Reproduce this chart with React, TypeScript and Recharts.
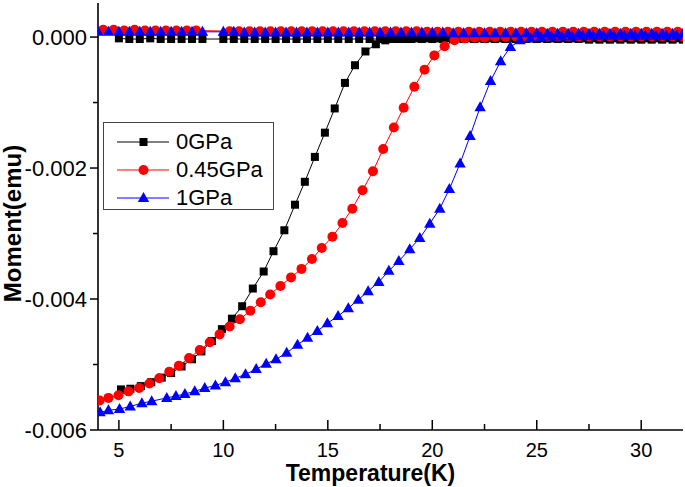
import { Label, Legend, Line, LineChart, XAxis, YAxis } from "recharts";

const FONT = "'Liberation Sans', Arial, sans-serif";

const seriesNames = ["0GPa", "0.45GPa", "1GPa"];
const seriesColors = ["#000000", "#ff0000", "#0000ff"];

const xTicks = [5, 7.5, 10, 12.5, 15, 17.5, 20, 22.5, 25, 27.5, 30];
const yTicks = [0, -0.001, -0.002, -0.003, -0.004, -0.005, -0.006];

// zero-field-cooled branches: [T (K), moment (emu)]
const zfc0GPa: [number, number][] = [
  [5.1, -0.00538], [5.55, -0.00537], [6.05, -0.00533], [6.55, -0.00527], [7.05, -0.0052],
  [7.5, -0.00513], [8.0, -0.00503], [8.5, -0.00492], [8.95, -0.0048], [9.45, -0.00464],
  [9.93, -0.00446], [10.41, -0.0043], [10.9, -0.00411], [11.41, -0.00384], [11.93, -0.00358],
  [12.4, -0.00327], [12.92, -0.00295], [13.43, -0.00256], [13.9, -0.00221], [14.38, -0.00183],
  [14.86, -0.00146], [15.33, -0.00109], [15.82, -0.0007], [16.3, -0.00043], [16.8, -0.00022],
  [17.3, -0.00011], [17.75, -0.00005], [18.25, -0.00003], [18.75, -0.00003], [19.25, -0.00002],
  [19.75, -0.00002], [20.25, -0.00002], [20.75, -0.00002], [21.25, -0.00002], [21.75, -0.00002],
  [22.25, -0.00002], [22.75, -0.00002], [23.25, -0.00002], [23.75, -0.00002], [24.25, -0.00002],
  [24.75, -0.00002], [25.25, -0.00002], [25.75, -0.00002], [26.25, -0.00002], [26.75, -0.00002],
  [27.25, -0.00002], [27.75, -0.00002], [28.25, -0.00002], [28.75, -0.00002], [29.25, -0.00002],
  [29.75, -0.00002], [30.25, -0.00002], [30.75, -0.00002], [31.25, -0.00002], [31.75, -0.00002]
];

const zfc045GPa: [number, number][] = [
  [4.08, -0.00555], [4.5, -0.00551], [4.98, -0.00547], [5.46, -0.00541], [5.97, -0.00536],
  [6.46, -0.00529], [6.93, -0.00521], [7.41, -0.00511], [7.87, -0.00502], [8.36, -0.0049],
  [8.87, -0.00478], [9.35, -0.00466], [9.82, -0.00454], [10.3, -0.00442], [10.79, -0.00431],
  [11.29, -0.00418], [11.79, -0.00405], [12.24, -0.00393], [12.73, -0.0038], [13.24, -0.00367],
  [13.74, -0.00354], [14.24, -0.00339], [14.71, -0.00322], [15.22, -0.00305], [15.7, -0.00284],
  [16.17, -0.00262], [16.66, -0.00234], [17.16, -0.00205], [17.65, -0.00171], [18.16, -0.00138],
  [18.63, -0.00108], [19.14, -0.00076], [19.63, -0.0005], [20.1, -0.00028], [20.59, -0.00014],
  [21.06, -0.00005], [21.55, -0.00002], [22.03, -0.00001], [22.5, -0.00001], [23.0, 0],
  [23.5, 0], [24.0, 0.00001], [24.5, 0], [25.0, 0.00001], [25.5, 0.00001], [26.0, 0.00001],
  [26.5, 0.00001], [27.0, 0.00001], [27.5, 0.00001], [28.0, 0.00001], [28.5, 0.00001],
  [29.0, 0.00001], [29.5, 0.00001], [30.0, 0.00001], [30.5, 0.00001], [31.0, 0.00001],
  [31.5, 0.00001], [32.0, 0.00001]
];

const zfc1GPa: [number, number][] = [
  [4.1, -0.00573], [4.5, -0.0057], [5.03, -0.00568], [5.54, -0.00564], [6.1, -0.00559],
  [6.57, -0.00556], [7.29, -0.00551], [7.73, -0.00548], [8.16, -0.00545], [8.63, -0.00541],
  [9.11, -0.00536], [9.62, -0.00532], [10.1, -0.00527], [10.57, -0.00521], [11.06, -0.00515],
  [11.57, -0.00507], [12.05, -0.00499], [12.52, -0.00492], [13.03, -0.00482], [13.55, -0.0047],
  [14.03, -0.00459], [14.5, -0.00449], [14.98, -0.00437], [15.49, -0.00426], [15.98, -0.00414],
  [16.46, -0.00401], [16.93, -0.00388], [17.44, -0.00374], [17.92, -0.00357], [18.4, -0.00342],
  [18.92, -0.00324], [19.4, -0.00307], [19.88, -0.00285], [20.36, -0.00262], [20.82, -0.00232],
  [21.33, -0.00193], [21.81, -0.00151], [22.29, -0.00107], [22.79, -0.00067], [23.27, -0.00037],
  [23.74, -0.00015], [24.2, -0.00005], [24.7, -0.00002], [25.2, 0], [25.7, 0.00001],
  [26.2, 0.00001], [26.7, 0.00001], [27.2, 0.00002], [27.7, 0.00002], [28.2, 0.00002],
  [28.7, 0.00002], [29.2, 0.00002], [29.7, 0.00002], [30.2, 0.00002], [30.7, 0.00002],
  [31.2, 0.00002], [31.7, 0.00002]
];

// field-cooled branches (the 0.45GPa run sits between the points of the other two)
const fcTemps = [
  4, 4.5, 5, 5.5, 6, 6.5, 7, 7.5, 8, 8.5, 9,
  10, 10.5, 11, 11.5, 12, 12.5, 13, 13.5, 14, 14.5, 15, 15.5, 16, 16.5, 17, 17.5,
  18, 18.5, 19, 19.5, 20, 20.5, 21, 21.5, 22, 22.5, 23, 23.5, 24, 24.5, 25, 25.5,
  26, 26.5, 27, 27.5, 28, 28.5, 29, 29.5, 30, 30.5, 31, 31.5, 32
];

const fcTemps045 = [
  4.25, 4.75, 5.25, 5.75, 6.25, 6.75, 7.25, 7.75, 8.25, 8.7,
  10.3, 10.75, 11.25, 11.75, 12.25, 12.75, 13.25, 13.75, 14.25, 14.75, 15.25, 15.75, 16.25, 16.75,
  17.25, 17.75, 18.25, 18.75, 19.25, 19.75, 20.25, 20.75, 21.25, 21.75, 22.25, 22.75, 23.25, 23.75,
  24.25, 24.75, 25.25, 25.75, 26.25, 26.75, 27.25, 27.75, 28.25, 28.75, 29.25, 29.75, 30.25, 30.75,
  31.25, 31.75
];

// 0GPa field-cooled starts at 5 K (no value at 4 and 4.5 K)
const fc0GPa = [
  null, null, -0.00002, -0.00003, -0.00003, -0.00002, -0.00003, -0.00003, -0.00003, -0.00003, -0.00003,
  -0.00003, -0.00003, -0.00003, -0.00003, -0.00003, -0.00003, -0.00003, -0.00003, -0.00003, -0.00003,
  -0.00003, -0.00003, -0.00003, -0.00003, -0.00003, -0.00003, -0.00003, -0.00003, -0.00003, -0.00003,
  -0.00003, -0.00003, -0.00003, -0.00003, -0.00003, -0.00003, -0.00003, -0.00003, -0.00003, -0.00003,
  -0.00003, -0.00003, -0.00003, -0.00003, -0.00003, -0.00004, -0.00004, -0.00004, -0.00004, -0.00004,
  -0.00004, -0.00004, -0.00004, -0.00004, -0.00004
];

const fc045GPa = [
  0.00011, 0.00011, 0.0001, 0.00011, 0.0001, 0.0001, 0.0001, 0.0001, 0.0001, 0.0001,
  0.00009, 0.00009, 0.00009, 0.00009, 0.00009, 0.00009, 0.00009, 0.00009, 0.00009, 0.00009,
  0.00009, 0.00009, 0.00009, 0.00009, 0.00009, 0.00009, 0.00009, 0.00009, 0.00009, 0.00008,
  0.00008, 0.00008, 0.00008, 0.00008, 0.00008, 0.00008, 0.00008, 0.00008, 0.00008, 0.00008,
  0.00008, 0.00008, 0.00008, 0.00008, 0.00008, 0.00008, 0.00008, 0.00008, 0.00008, 0.00008,
  0.00008, 0.00008, 0.00008, 0.00008
];

const fc1GPa = [
  0.00008, 0.00008, 0.00008, 0.00008, 0.00008, 0.00008, 0.00008, 0.00008, 0.00008, 0.00008, 0.00008,
  0.00008, 0.00008, 0.00007, 0.00007, 0.00007, 0.00007, 0.00007, 0.00007, 0.00007, 0.00007,
  0.00007, 0.00007, 0.00007, 0.00007, 0.00007, 0.00007, 0.00007, 0.00007, 0.00007, 0.00007,
  0.00007, 0.00007, 0.00006, 0.00006, 0.00006, 0.00006, 0.00006, 0.00006, 0.00006, 0.00006,
  0.00006, 0.00005, 0.00005, 0.00005, 0.00005, 0.00005, 0.00005, 0.00005, 0.00005, 0.00005,
  0.00005, 0.00005, 0.00005, 0.00005, 0.00005
];

const pairRows = (pts: [number, number][]) => pts.map(([t, m]) => ({ t, m }));
const fcRows = (temps: number[], vals: (number | null)[]) =>
  temps.map((t, i) => ({ t, m: vals[i] })).filter((r) => r.m !== null && r.m !== undefined);

const zfcData = [pairRows(zfc0GPa), pairRows(zfc045GPa), pairRows(zfc1GPa)];
const fcData = [fcRows(fcTemps, fc0GPa), fcRows(fcTemps045, fc045GPa), fcRows(fcTemps, fc1GPa)];

function Marker({ cx, cy, idx }: { cx: number; cy: number; idx: number }) {
  const color = seriesColors[idx];
  if (idx === 0) return <rect x={cx - 4} y={cy - 4} width={8} height={8} fill={color} />;
  if (idx === 1) return <circle cx={cx} cy={cy} r={5} fill={color} />;
  return (
    <polygon
      points={`${cx},${cy - 6} ${cx - 5.7},${cy + 4} ${cx + 5.7},${cy + 4}`}
      fill={color}
    />
  );
}

const dotFor = (idx: number) => (props: any) => {
  const { cx, cy, index } = props;
  if (cx == null || cy == null) return <g key={index} />;
  return (
    <g key={index}>
      <Marker cx={cx} cy={cy} idx={idx} />
    </g>
  );
};

const isMajorX = (v: number) => v % 5 === 0;
const isMajorY = (v: number) => Math.round(v * 1000) % 2 === 0;

function BottomTick(props: any) {
  const { x, y, payload } = props;
  const major = isMajorX(payload.value);
  return (
    <g>
      <line x1={x} x2={x} y1={y} y2={y - (major ? 10 : 6)} stroke="#000" strokeWidth={1.5} />
      {major && (
        <text x={x} y={y + 27} textAnchor="middle" fontSize={20} fontFamily={FONT} fill="#000">
          {payload.value}
        </text>
      )}
    </g>
  );
}

function TopTick(props: any) {
  const { x, y, payload } = props;
  const major = isMajorX(payload.value);
  return <line x1={x} x2={x} y1={y} y2={y + (major ? 10 : 6)} stroke="#000" strokeWidth={1.5} />;
}

function LeftTick(props: any) {
  const { x, y, payload } = props;
  const major = isMajorY(payload.value);
  return (
    <g>
      <line x1={x} x2={x - (major ? 8 : 5)} y1={y} y2={y} stroke="#000" strokeWidth={1.5} />
      {major && (
        <text x={x - 11} y={y} dy="0.36em" textAnchor="end" fontSize={22} fontFamily={FONT} fill="#000">
          {payload.value.toFixed(3)}
        </text>
      )}
    </g>
  );
}

function RightTick(props: any) {
  const { x, y, payload } = props;
  const major = isMajorY(payload.value);
  return <line x1={x} x2={x - (major ? 8 : 5)} y1={y} y2={y} stroke="#000" strokeWidth={1.5} />;
}

function LegendBox() {
  return (
    <div
      style={{
        width: 171,
        height: 88,
        boxSizing: "border-box",
        border: "1px solid #444",
        background: "#fff",
        paddingTop: 5,
        fontFamily: FONT,
        fontSize: 22
      }}
    >
      {seriesNames.map((name, i) => (
        <div key={name} style={{ display: "flex", alignItems: "center", height: 28 }}>
          <svg width={72} height={20} style={{ display: "block" }}>
            <line x1={13} x2={65} y1={10} y2={10} stroke={seriesColors[i]} strokeWidth={1} />
            <Marker cx={39.5} cy={10} idx={i} />
          </svg>
          <span style={{ color: "#000", lineHeight: "28px" }}>{name}</span>
        </div>
      ))}
    </div>
  );
}

export default function App() {
  return (
    <div style={{ position: "absolute", left: 0, top: 0, background: "#fff" }}>
      <LineChart width={685} height={487} margin={{ top: 3, right: 2, bottom: 0, left: 0 }}>
        <XAxis
          dataKey="t"
          type="number"
          domain={[4, 32]}
          allowDataOverflow
          ticks={xTicks}
          interval={0}
          height={57}
          tickSize={0}
          tickMargin={0}
          tick={BottomTick}
          axisLine={{ stroke: "#000", strokeWidth: 1.6 }}
        >
          <Label
            content={(p: any) => {
              const vb = p.viewBox;
              return (
                <text
                  x={vb.x + vb.width / 2 - 20}
                  y={vb.y + vb.height - 6}
                  textAnchor="middle"
                  fontSize={23}
                  fontWeight="bold"
                  fontFamily={FONT}
                  fill="#000"
                >
                  Temperature(K)
                </text>
              );
            }}
          />
        </XAxis>
        <XAxis
          xAxisId="top"
          orientation="top"
          dataKey="t"
          type="number"
          domain={[4, 32]}
          allowDataOverflow
          ticks={xTicks}
          interval={0}
          height={0}
          tickSize={0}
          tickMargin={0}
          tick={TopTick}
          axisLine={{ stroke: "#000", strokeWidth: 1.6 }}
        />
        <YAxis
          type="number"
          domain={[-0.006, 0.00052]}
          allowDataOverflow
          ticks={yTicks}
          interval={0}
          width={98}
          tickSize={0}
          tickMargin={0}
          tick={LeftTick}
          axisLine={{ stroke: "#000", strokeWidth: 1.6 }}
        >
          <Label
            content={(p: any) => {
              const vb = p.viewBox;
              const cx = 12;
              const cy = vb.y + vb.height / 2 + 7;
              return (
                <text
                  x={cx}
                  y={cy}
                  dy="0.36em"
                  transform={`rotate(-90 ${cx} ${cy})`}
                  textAnchor="middle"
                  fontSize={24}
                  fontWeight="bold"
                  fontFamily={FONT}
                  fill="#000"
                >
                  Moment(emu)
                </text>
              );
            }}
          />
        </YAxis>
        <YAxis
          yAxisId="right"
          orientation="right"
          type="number"
          domain={[-0.006, 0.00052]}
          allowDataOverflow
          ticks={yTicks}
          interval={0}
          width={0}
          tickSize={0}
          tickMargin={0}
          tick={RightTick}
          axisLine={{ stroke: "#000", strokeWidth: 1.6 }}
        />
        <Legend
          layout="vertical"
          align="center"
          verticalAlign="middle"
          content={() => <LegendBox />}
          wrapperStyle={{ position: "absolute", left: 103, top: 122, width: 171, height: 88 }}
        />
        {seriesNames.flatMap((name, i) => [
          <Line
            key={`fc-${name}`}
            data={fcData[i]}
            dataKey="m"
            name={`${name} FC`}
            legendType="none"
            type="linear"
            stroke={seriesColors[i]}
            strokeWidth={1}
            dot={dotFor(i)}
            activeDot={false}
            isAnimationActive={false}
          />,
          <Line
            key={`zfc-${name}`}
            data={zfcData[i]}
            dataKey="m"
            name={name}
            type="linear"
            stroke={seriesColors[i]}
            strokeWidth={1}
            dot={dotFor(i)}
            activeDot={false}
            isAnimationActive={false}
          />
        ])}
      </LineChart>
    </div>
  );
}
